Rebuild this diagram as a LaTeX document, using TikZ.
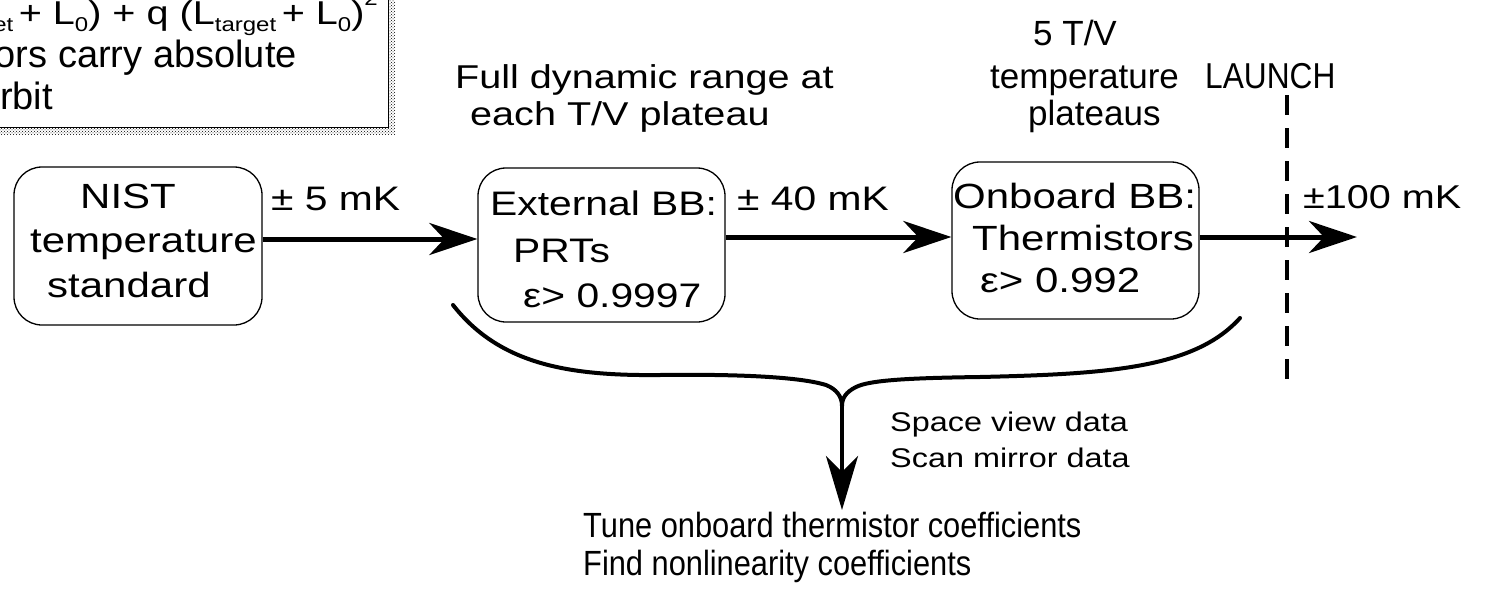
\documentclass[tikz,border=0pt]{standalone}
\usepackage{fontspec}
\setmainfont{Liberation Sans}
\newfontfamily\fwide{Liberation Sans}[FakeStretch=1.2]
\newfontfamily\fnorm{Liberation Sans}
\newfontfamily\fnarrow{Liberation Sans}[FakeStretch=0.88]
\usetikzlibrary{arrows.meta,patterns,shadows}
\newcommand\fsz[1]{\fontsize{#1}{#1}\selectfont}
\newcommand\lowsub[1]{\raisebox{-7pt}{\fsz{20}#1}}
\begin{document}
\begin{tikzpicture}[x=1pt,y=-1pt,
  box/.style={draw, line width=1.3pt, rounded corners=28pt, inner sep=0pt},
  txt/.style={anchor=base west, inner sep=0pt},
  txte/.style={anchor=base east, inner sep=0pt},
  arr/.style={line width=5pt, -{Stealth[length=48pt,width=32pt,inset=15pt]}},
  brace/.style={line width=4pt},
  launchline/.style={line width=4.5pt, dash pattern=on 20pt off 13pt}]
\useasboundingbox (0,0) rectangle (1489,589);
% clipped equation box
\node[draw, line width=1pt, fill=white, minimum width=488pt, minimum height=187pt, inner sep=0pt,
  drop shadow={pattern=crosshatch dots, opacity=1, shadow xshift=7pt, shadow yshift=-7pt}]
  (eqbox) at (144,33.5) {};
\node[txte] (eq1) at (378,24) {\fwide\fsz{33}\lowsub{et}\,+ L\lowsub{0}) + q (L\lowsub{target}\,+ L\lowsub{0})\raisebox{19pt}{\fsz{20}2}};
\node[txte] (eq2) at (297,67) {\fnorm\fsz{38}ors carry absolute};
\node[txt] (eq3) at (0,109) {\fnorm\fsz{38}rbit};
% top labels
\node[txt] (full1) at (455,88) {\fwide\fsz{33}Full dynamic range at};
\node[txt] (full2) at (470,125) {\fwide\fsz{33}each T/V plateau};
\node[txt] (tv1) at (1033,45) {\fnorm\fsz{35}5 T/V};
\node[txt] (tv2) at (990,88) {\fnorm\fsz{35}temperature};
\node[txt] (tv3) at (1028,125) {\fnorm\fsz{35}plateaus};
\node[txt] (launch) at (1205,88) {\fnarrow\fsz{36}LAUNCH};
% boxes
\node[box, minimum width=248pt, minimum height=158pt] (nist) at (138,246) {};
\node[txt] (nist1) at (80,208) {\fwide\fsz{35}NIST};
\node[txt] (nist2) at (30,252) {\fwide\fsz{35}temperature};
\node[txt] (nist3) at (47,297) {\fwide\fsz{35}standard};
\node[box, minimum width=247pt, minimum height=154pt] (ext) at (601.5,245) {};
\node[txt] (ext1) at (490,215) {\fwide\fsz{34}External BB:};
\node[txt] (ext2) at (513,262) {\fwide\fsz{34}PRTs};
\node[txt] (ext3) at (523,307) {\fwide\fsz{34}ε> 0.9997};
\node[box, minimum width=247pt, minimum height=157pt] (onb) at (1075.5,240.5) {};
\node[txt] (onb1) at (953,208) {\fwide\fsz{35}Onboard BB:};
\node[txt] (onb2) at (972,250) {\fwide\fsz{35}Thermistors};
\node[txt] (onb3) at (980,292) {\fwide\fsz{35}ε> 0.992};
% arrows and labels
\draw[arr] (nist.east |- 0,239) -- (ext.west |- 0,239);
\node[txt] (lab1) at (271,210) {\fwide\fsz{34}± 5 mK};
\draw[arr] (ext.east |- 0,237) -- (onb.west |- 0,237);
\node[txt] (lab2) at (737,210) {\fwide\fsz{34}± 40 mK};
\coordinate (outtip) at (1357,237);
\draw[arr] (onb.east |- 0,237) -- (outtip);
\node[txt] (lab3) at (1303,208) {\fwide\fsz{33}±100 mK};
% launch line
\coordinate (lt) at (1287,95);
\coordinate (lb) at (1287,392);
\draw[launchline] (lt) -- (lb);
% brace
\coordinate (bl) at (453,305);
\coordinate (br) at (1240,318);
\coordinate (bj) at (842,406);
\coordinate (btip) at (842,510);
\draw[brace, line cap=round] (bl) .. controls (500,365) and (570,376) .. (660,375)
  .. controls (740,374) and (800,377) .. (826,385) .. controls (836,389) and (842,396) .. (bj);
\draw[brace, line cap=round] (br) .. controls (1195,368) and (1110,374) .. (980,377)
  .. controls (910,378) and (870,380) .. (856,387) .. controls (846,392) and (842,398) .. (bj);
\draw[line width=4pt, -{Stealth[length=54pt,width=32pt,inset=16pt]}] (bj) -- (btip);
\node[txt] (sv1) at (890,431) {\fwide\fsz{27}Space view data};
\node[txt] (sv2) at (890,467) {\fwide\fsz{27}Scan mirror data};
\node[txt] (res1) at (583,537) {\fnarrow\fsz{35}Tune onboard thermistor coefficients};
\node[txt] (res2) at (583,575) {\fnarrow\fsz{35}Find nonlinearity coefficients};
\end{tikzpicture}
\end{document}
